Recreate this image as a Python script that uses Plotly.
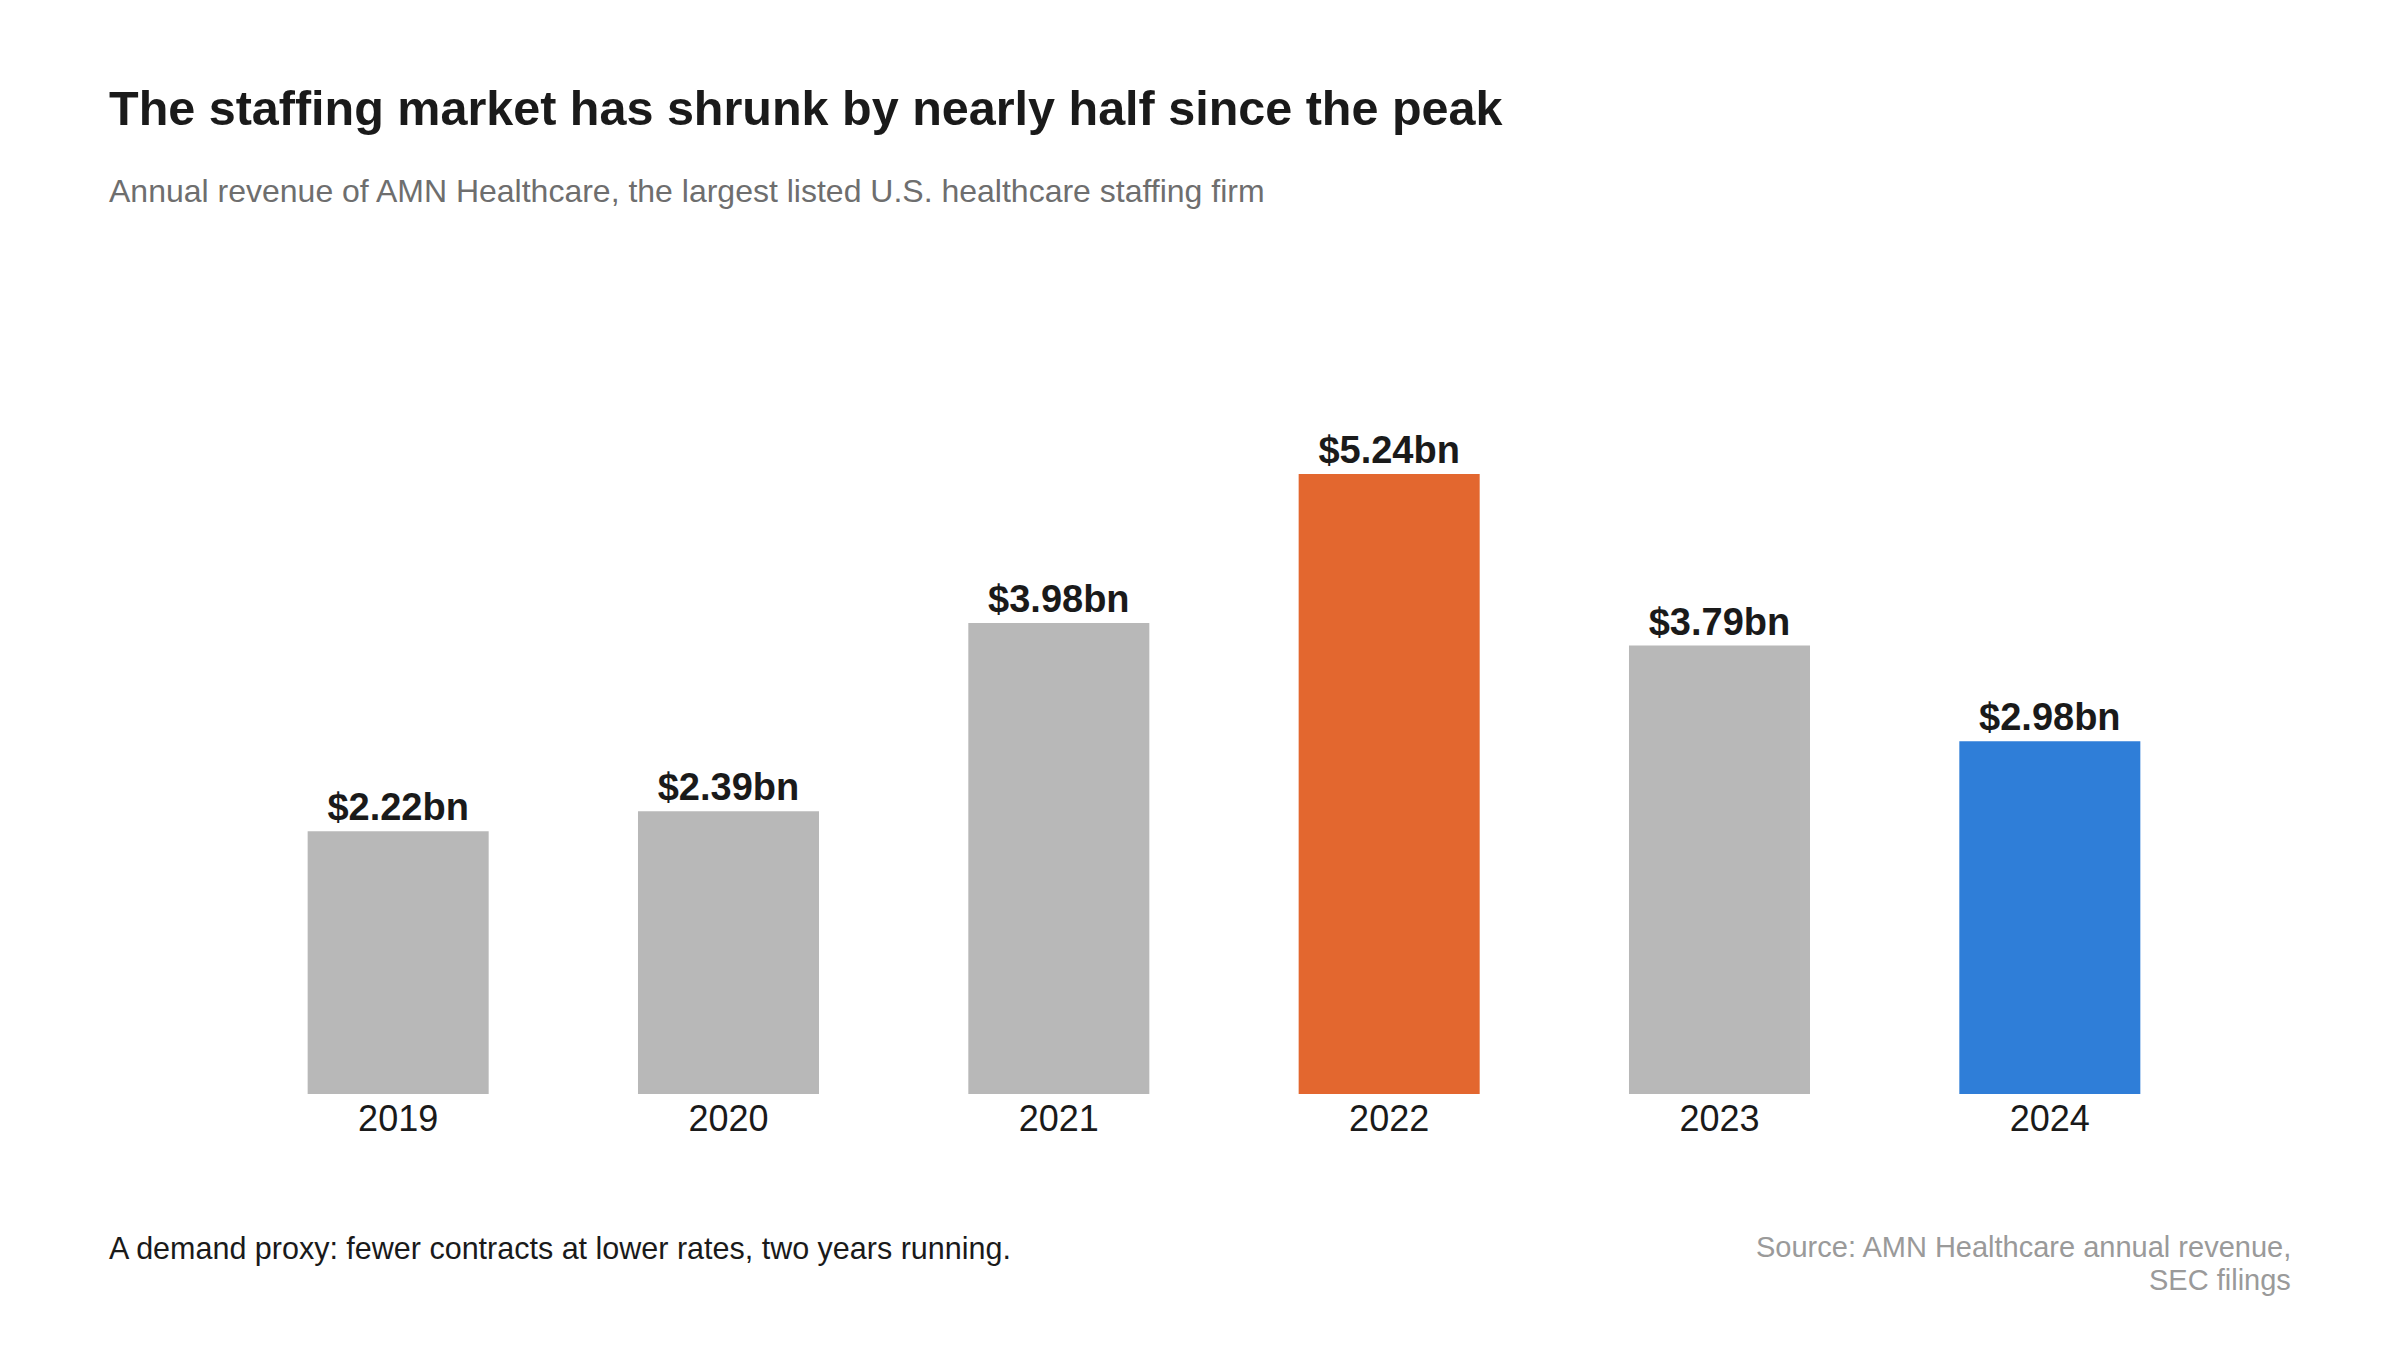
import plotly.graph_objects as go

# AMN Healthcare annual revenue, $bn
years = ["2019", "2020", "2021", "2022", "2023", "2024"]
revenue = [2.22, 2.39, 3.98, 5.24, 3.79, 2.98]
bar_colors = ["#b8b8b8", "#b8b8b8", "#b8b8b8", "#e3672f", "#b8b8b8", "#2f7ed8"]
labels = ["$" + format(v, ".2f") + "bn" for v in revenue]

FONT = "Liberation Sans, Arial, sans-serif"

fig = go.Figure()
fig.add_bar(
    x=years, y=revenue,
    marker=dict(color=bar_colors, line=dict(width=0)),
    text=labels, textposition="outside",
    textfont=dict(family=FONT, size=38, color="#1a1a1a", weight="bold"),
    cliponaxis=False,
    hoverinfo="skip",
)

# pixel layout (page body adds an 8px margin, so the figure is 8px smaller)
W, H = 2392, 1342
L, R, T, B = 225, 185, 292, 256
pw, ph = W - L - R, H - T - B

def px(x):
    return (x - L) / pw

def py(y):
    return (H - B - y) / ph

fig.update_layout(
    width=W, height=H,
    margin=dict(l=L, r=R, t=T, b=B),
    paper_bgcolor="white", plot_bgcolor="white",
    font=dict(family=FONT),
    bargap=0.452,
    showlegend=False,
    xaxis=dict(
        showgrid=False, zeroline=False, showline=False, ticks="",
        tickfont=dict(family=FONT, size=36, color="#1a1a1a"),
    ),
    yaxis=dict(range=[0, 6.71], visible=False),
)

fig.add_annotation(
    text="<b>The staffing market has shrunk by nearly half since the peak</b>",
    xref="paper", yref="paper", x=px(99), y=py(100),
    xanchor="left", yanchor="middle", showarrow=False,
    font=dict(family=FONT, size=48.5, color="#1a1a1a"),
)
fig.add_annotation(
    text="Annual revenue of AMN Healthcare, the largest listed U.S. healthcare staffing firm",
    xref="paper", yref="paper", x=px(99), y=py(183),
    xanchor="left", yanchor="middle", showarrow=False,
    font=dict(family=FONT, size=32, color="#6e6e6e"),
)
fig.add_annotation(
    text="A demand proxy: fewer contracts at lower rates, two years running.",
    xref="paper", yref="paper", x=px(99), y=py(1240),
    xanchor="left", yanchor="middle", showarrow=False,
    font=dict(family=FONT, size=30.5, color="#1a1a1a"),
)
source_lines = ["Source: AMN Healthcare annual revenue,", "SEC filings"]
for line, ypos in zip(source_lines, [1239, 1272]):
    fig.add_annotation(
        text=line,
        xref="paper", yref="paper", x=px(2285), y=py(ypos),
        xanchor="right", yanchor="middle", align="right", showarrow=False,
        font=dict(family=FONT, size=29, color="#9a9a9a"),
    )

fig.write_html("out.html")
